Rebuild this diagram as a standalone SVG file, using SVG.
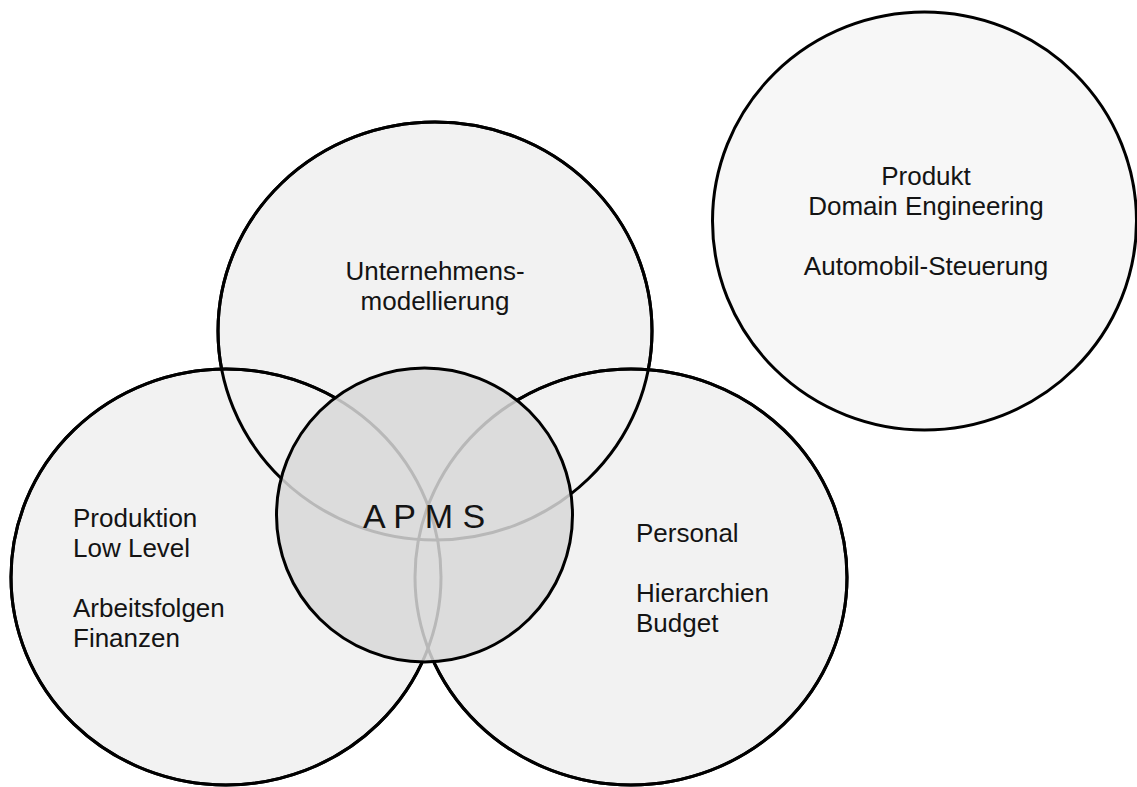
<svg xmlns="http://www.w3.org/2000/svg" xmlns:xlink="http://www.w3.org/1999/xlink" width="1137" height="787" viewBox="0 0 1137 787">
  <style>
    .area { fill: #f2f2f2; stroke: #000; stroke-width: 3; }
    .area-alt { fill: #f7f7f7; stroke: #000; stroke-width: 3; }
    .core { fill: #dcdcdc; }
    .edge { fill: none; stroke: #000; stroke-width: 3; }
    .inner-edge { fill: none; stroke: #b8b8b8; stroke-width: 3; }
    .label { font-family: "Liberation Sans", Arial, sans-serif; font-size: 26px; fill: #141414; }
    .center { text-anchor: middle; }
    .core-label { font-family: "Liberation Sans", Arial, sans-serif; font-size: 34px; fill: #141414; text-anchor: middle; }
  </style>
  <defs>
    <ellipse id="shape-top" cx="435" cy="331" rx="217" ry="209"/>
    <ellipse id="shape-left" cx="226" cy="577" rx="215" ry="208"/>
    <ellipse id="shape-right" cx="631" cy="577" rx="216" ry="208"/>
    <clipPath id="core-clip">
      <ellipse cx="424.5" cy="515" rx="148" ry="147"/>
    </clipPath>
  </defs>

  <rect width="1137" height="787" fill="#fff"/>

  <!-- stand-alone product circle -->
  <g id="node-produkt">
    <ellipse class="area-alt" cx="924.5" cy="221" rx="212" ry="209"/>
    <text class="label center" x="926" y="185">Produkt</text>
    <text class="label center" x="926" y="215">Domain Engineering</text>
    <text class="label center" x="926" y="275">Automobil-Steuerung</text>
  </g>

  <!-- three overlapping domains -->
  <g id="node-unternehmen">
    <use xlink:href="#shape-top" class="area"/>
    <text class="label center" x="435" y="280">Unternehmens-</text>
    <text class="label center" x="435" y="310">modellierung</text>
  </g>

  <g id="node-produktion">
    <use xlink:href="#shape-left" class="area"/>
    <text class="label" x="73" y="527">Produktion</text>
    <text class="label" x="73" y="557">Low Level</text>
    <text class="label" x="73" y="617">Arbeitsfolgen</text>
    <text class="label" x="73" y="647">Finanzen</text>
  </g>

  <g id="node-personal">
    <use xlink:href="#shape-right" class="area"/>
    <text class="label" x="636" y="542">Personal</text>
    <text class="label" x="636" y="602">Hierarchien</text>
    <text class="label" x="636" y="632">Budget</text>
  </g>

  <!-- outlines redrawn above all fills so every edge stays visible -->
  <g id="connectors">
    <use xlink:href="#shape-top" class="edge"/>
    <use xlink:href="#shape-left" class="edge"/>
    <use xlink:href="#shape-right" class="edge"/>
  </g>

  <!-- shared core -->
  <g id="node-apms">
    <ellipse class="core" cx="424.5" cy="515" rx="148" ry="147"/>
    <g clip-path="url(#core-clip)">
      <use xlink:href="#shape-top" class="inner-edge"/>
      <use xlink:href="#shape-left" class="inner-edge"/>
      <use xlink:href="#shape-right" class="inner-edge"/>
    </g>
    <ellipse class="edge" cx="424.5" cy="515" rx="148" ry="147"/>
    <text class="core-label" x="424" y="528">A P M S</text>
  </g>
</svg>
